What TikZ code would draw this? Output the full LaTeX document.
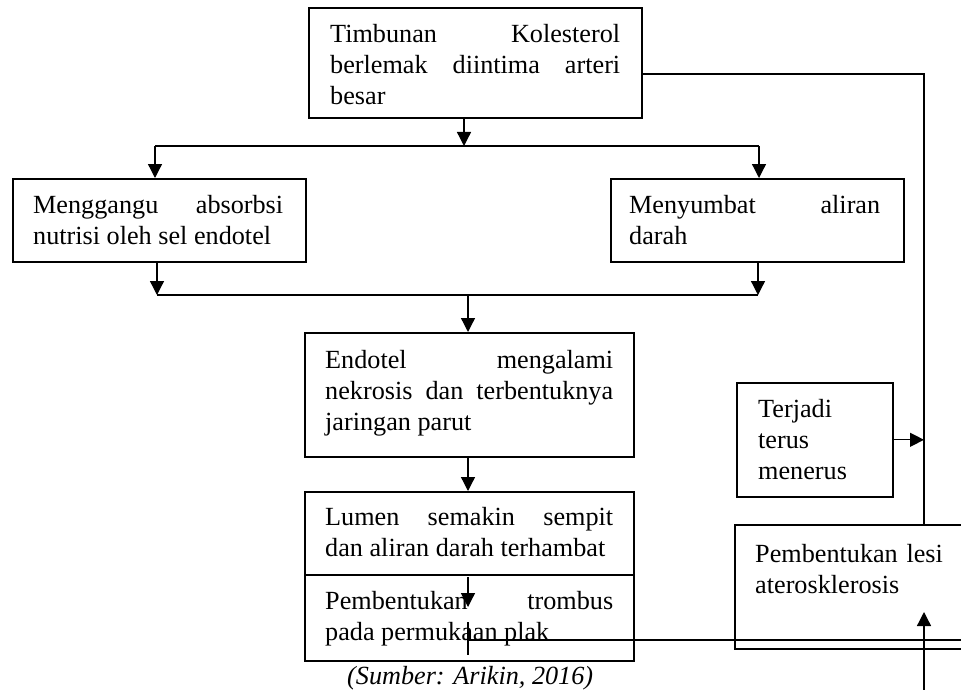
\documentclass[tikz,border=0pt]{standalone}
\usepackage{fontspec}
\setmainfont{Liberation Serif}
\usetikzlibrary{arrows.meta}
\newcommand\myfs{\fontsize{26.2}{31}\selectfont\hyphenpenalty=10000 \exhyphenpenalty=10000 \tolerance=10000 \emergencystretch=0pt }
\tikzset{
  box/.style={draw, line width=1.6pt, inner sep=0pt, anchor=north west},
  txt/.style={inner sep=0pt, anchor=base west, align=justify, font=\myfs},
  ltxt/.style={inner sep=0pt, anchor=base west, align=left, font=\myfs, text width=200pt},
  conn/.style={line width=1.3pt},
  arr/.style={conn, -{Triangle[length=14pt,width=14pt]}},
}
\begin{document}
\begin{tikzpicture}[x=1pt,y=-1pt]
\useasboundingbox (0,0) rectangle (961,690);
% boxes
\node[box, minimum width=333pt, minimum height=110pt] (top) at (308,7) {};
\node[box, minimum width=293pt, minimum height=83pt] (boxL) at (12,178) {};
\node[box, minimum width=293pt, minimum height=83pt] (boxR) at (610,178) {};
\node[box, minimum width=329pt, minimum height=124pt] (endo) at (304,332) {};
\node[box, minimum width=329pt, minimum height=83pt] (lumen) at (304,491) {};
\node[box, minimum width=329pt, minimum height=86pt] (trom) at (304,574) {};
\node[box, minimum width=156pt, minimum height=114pt] (terj) at (736,382) {};
\node[box, minimum width=240pt, minimum height=124pt] (lesi) at (734,524) {};
% texts
\node[txt, text width=290pt] (ttop) at (330,43) {Timbunan Kolesterol\linebreak berlemak diintima arteri\linebreak besar};
\node[txt, text width=250pt] (tL) at (33,213) {Menggangu absorbsi\linebreak nutrisi oleh sel endotel};
\node[txt, text width=251pt] (tR) at (629,213) {Menyumbat aliran\linebreak darah};
\node[txt, text width=288pt] (tE) at (325,368) {Endotel mengalami\linebreak nekrosis dan terbentuknya\linebreak jaringan parut};
\node[txt, text width=288pt] (tLu) at (325,525) {Lumen semakin sempit\linebreak dan aliran darah terhambat};
\node[txt, text width=288pt] (tTr) at (325,609) {Pembentukan trombus\linebreak pada permukaan plak};
\node[ltxt, text width=120pt] (tTe) at (758,417) {Terjadi\\terus\\menerus};
\node[ltxt] (tLe) at (755,562) {Pembentukan lesi\\aterosklerosis};
\node[inner sep=0pt, anchor=base west, font=\myfs\itshape] (cap) at (347,684) {(Sumber: Arikin, 2016)};
% coordinates
\coordinate (s1) at (464,146);
\coordinate (h1L) at (155,146);
\coordinate (h1R) at (759,146);
\coordinate (h2L) at (157,295);
\coordinate (h2R) at (758,295);
\coordinate (h2M) at (468,295);
\coordinate (t1) at (468,577);
\coordinate (t2) at (468,607);
\coordinate (t3) at (468,622);
\coordinate (t4) at (468,655);
\coordinate (hb1) at (468,640);
\coordinate (hb2) at (975,640);
\coordinate (vb) at (924,700);
\coordinate (vt) at (924,612);
\coordinate (r0) at (924,74);
% connectors
\draw[arr] (s1 |- top.south) -- (s1);
\draw[conn] (h1L) -- (h1R);
\draw[arr] (h1L) -- (h1L |- boxL.north);
\draw[arr] (h1R) -- (h1R |- boxR.north);
\draw[arr] (h2L |- boxL.south) -- (h2L);
\draw[arr] (h2R |- boxR.south) -- (h2R);
\draw[conn] (h2L) -- (h2R);
\draw[arr] (h2M) -- (h2M |- endo.north);
\draw[arr] (h2M |- endo.south) -- (h2M |- lumen.north);
\draw[arr] (t1) -- (t2);
\draw[conn] (t3) -- (t4);
\draw[conn] (hb1) -- (hb2);
\draw[arr] (vb) -- (vt);
\draw[conn] (r0 -| top.east) -- (r0) -- (r0 |- lesi.north);
\draw[arr] (terj.east) -- (terj.east -| r0);
\end{tikzpicture}
\end{document}
